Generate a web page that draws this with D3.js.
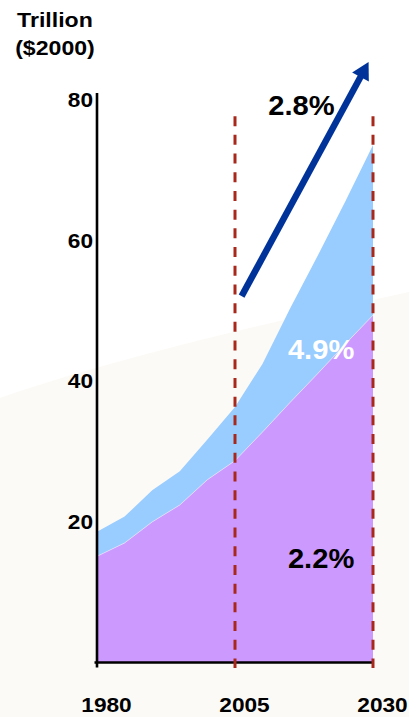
<!DOCTYPE html>
<html>
<head>
<meta charset="utf-8">
<script src="https://cdn.jsdelivr.net/npm/d3@7"></script>
<style>
  html, body { margin: 0; padding: 0; background: #fff; }
  svg { display: block; }
  text { font-family: "Liberation Sans", Arial, Helvetica, sans-serif; font-weight: bold; }
</style>
</head>
<body>
<svg id="chart" width="409" height="717"></svg>
<script>
// World GDP, trillion US$ (2000 prices): historic 1980-2005, projection to 2030
const years = [1980, 1985, 1990, 1995, 2000, 2005, 2010, 2015, 2020, 2025, 2030];
const lowerBand = [15.1, 17.0, 20.0, 22.4, 26.0, 28.7, 32.8, 37.0, 41.1, 45.3, 49.4];
const upperBand = [3.5, 3.75, 4.5, 4.8, 5.7, 7.65, 9.7, 13.4, 16.8, 20.3, 24.2];
const yTickValues = [20, 40, 60, 80];
const xTickValues = [1980, 2005, 2030];
const markerYears = [2005, 2030];
const growthTotal = "2.8%";
const growthUpper = "4.9%";
const growthLower = "2.2%";

const svg = d3.select("#chart");
const W = 409, H = 717;

const x = d3.scaleLinear().domain([1980, 2030]).range([97, 373]);
const y = d3.scaleLinear().domain([0, 80]).range([662.5, 100]);

// stretch bold text slightly wider, like the slide's typeface
function widen(sel, k) {
  sel.each(function () {
    const w = this.getComputedTextLength();
    this.setAttribute("textLength", w * k);
    this.setAttribute("lengthAdjust", "spacingAndGlyphs");
  });
}

// slide background: white with a faint cream sweep across the lower part
svg.append("rect").attr("width", W).attr("height", H).attr("fill", "#ffffff");
svg.append("path")
  .attr("d", `M0,398 Q135,351 ${W},292 L${W},${H} L0,${H} Z`)
  .attr("fill", "#fcfaf6");

// stacked areas
const rows = years.map((yr, i) => ({ year: yr, lower: lowerBand[i], upper: upperBand[i] }));
const stacked = d3.stack().keys(["lower", "upper"])(rows);
const fills = { lower: "#cc99ff", upper: "#99ccff" };
const area = d3.area()
  .x(d => x(d.data.year))
  .y0(d => y(d[0]))
  .y1(d => y(d[1]));

svg.append("g").selectAll("path")
  .data(stacked.slice().reverse())
  .join("path")
  .attr("d", area)
  .attr("fill", d => fills[d.key]);

// faint seam between the two bands
svg.append("path")
  .datum(stacked[0])
  .attr("d", d3.line().x(d => x(d.data.year)).y(d => y(d[1])))
  .attr("fill", "none")
  .attr("stroke", "#ffffff")
  .attr("stroke-opacity", 0.55)
  .attr("stroke-width", 0.8);

// axes
const yAxis = svg.append("g")
  .attr("transform", `translate(${x(1980)},0)`)
  .call(d3.axisLeft(y).tickValues(yTickValues).tickSize(0).tickPadding(4).tickFormat(d3.format("d")));
yAxis.select(".domain").remove();
yAxis.selectAll("text")
  .attr("fill", "#000")
  .style("font-size", "21px")
  .style("font-family", '"Liberation Sans", Arial, sans-serif')
  .style("font-weight", "bold")
  .call(widen, 1.08);

const xAxis = svg.append("g")
  .attr("transform", `translate(0,${y(0)})`)
  .call(d3.axisBottom(x).tickValues(xTickValues).tickSize(0).tickFormat(d3.format("d")));
xAxis.select(".domain").remove();
xAxis.selectAll("text")
  .attr("y", 49.5)
  .attr("dy", 0)
  .attr("dx", 9)
  .attr("fill", "#000")
  .style("font-size", "21px")
  .style("font-family", '"Liberation Sans", Arial, sans-serif')
  .style("font-weight", "bold")
  .call(widen, 1.08);

// axis lines
svg.append("line")
  .attr("x1", x(1980)).attr("x2", x(1980))
  .attr("y1", y(81)).attr("y2", y(0) + 5)
  .attr("stroke", "#000").attr("stroke-width", 2.6);
svg.append("line")
  .attr("x1", x(1980) - 2.5).attr("x2", x(2030))
  .attr("y1", y(0)).attr("y2", y(0))
  .attr("stroke", "#000").attr("stroke-width", 2.6);

// dashed markers at 2005 and 2030
svg.append("g").selectAll("line")
  .data(markerYears)
  .join("line")
  .attr("x1", d => x(d)).attr("x2", d => x(d))
  .attr("y1", y(77.7)).attr("y2", y(0) + 5.5)
  .attr("stroke", "#a8281c")
  .attr("stroke-width", 3)
  .attr("stroke-dasharray", "10,8.7");

// unit title
const title = svg.append("text")
  .attr("text-anchor", "middle")
  .attr("fill", "#000")
  .style("font-size", "21px");
title.append("tspan").attr("x", 55).attr("y", 27).text("Trillion");
title.append("tspan").attr("x", 55).attr("y", 55).text("($2000)");
title.selectAll("tspan").call(widen, 1.1);

// growth arrow for the total
const arrowStart = [x(2006.2), y(52.1)];
const arrowTip = [x(2029.2), y(85.4)];
const dx = arrowTip[0] - arrowStart[0], dy = arrowTip[1] - arrowStart[1];
const len = Math.hypot(dx, dy);
const ux = dx / len, uy = dy / len;
const headLen = 17, headHalf = 9.5;
const base = [arrowTip[0] - ux * headLen, arrowTip[1] - uy * headLen];
svg.append("line")
  .attr("x1", arrowStart[0]).attr("y1", arrowStart[1])
  .attr("x2", base[0] + ux * 2).attr("y2", base[1] + uy * 2)
  .attr("stroke", "#003399")
  .attr("stroke-width", 6.5);
svg.append("path")
  .attr("d", d3.line()([
    arrowTip,
    [base[0] - uy * headHalf, base[1] + ux * headHalf],
    [base[0] + uy * headHalf, base[1] - ux * headHalf]
  ]) + "Z")
  .attr("fill", "#003399");

// growth rate labels
const rateLabels = [
  { text: growthTotal, year: 2017.05, value: 77.9, color: "#000" },
  { text: growthUpper, year: 2020.6, value: 43.2, color: "#ffffff" },
  { text: growthLower, year: 2020.6, value: 13.5, color: "#000" }
];
svg.append("g").selectAll("text")
  .data(rateLabels)
  .join("text")
  .attr("x", d => x(d.year))
  .attr("y", d => y(d.value))
  .attr("text-anchor", "middle")
  .attr("fill", d => d.color)
  .style("font-size", "28px")
  .text(d => d.text)
  .call(widen, 1.04);
</script>
</body>
</html>
